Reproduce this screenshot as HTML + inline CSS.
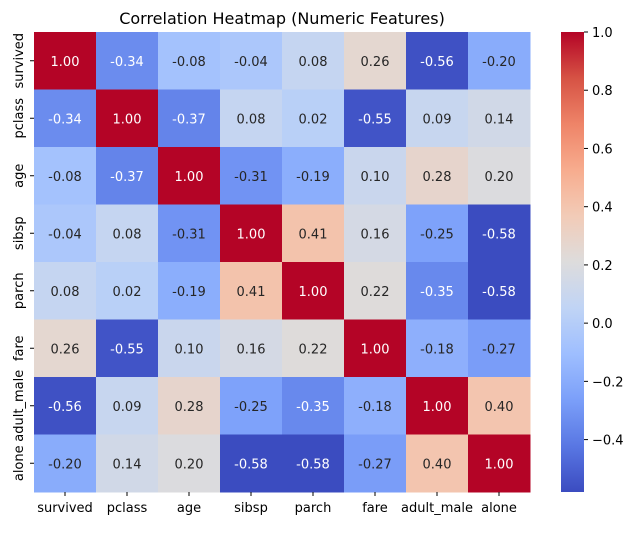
<!DOCTYPE html>
<html><head><meta charset="utf-8"><style>
body{margin:0;background:#fff}
svg text{font-family:"DejaVu Sans","Liberation Sans",sans-serif}
</style></head><body>
<svg id="c" width="637" height="528" xmlns="http://www.w3.org/2000/svg">
<text x="282" y="24" text-anchor="middle" font-size="16" fill="#000">Correlation Heatmap (Numeric Features)</text>
<g id="cells"></g><g id="labels"></g><g id="cbar"></g>
</svg>
<script>
const categories = ["survived","pclass","age","sibsp","parch","fare","adult_male","alone"];
const row0 = [1.00,-0.34,-0.08,-0.04,0.08,0.26,-0.56,-0.20];
const row1 = [-0.34,1.00,-0.37,0.08,0.02,-0.55,0.09,0.14];
const row2 = [-0.08,-0.37,1.00,-0.31,-0.19,0.10,0.28,0.20];
const row3 = [-0.04,0.08,-0.31,1.00,0.41,0.16,-0.25,-0.58];
const row4 = [0.08,0.02,-0.19,0.41,1.00,0.22,-0.35,-0.58];
const row5 = [0.26,-0.55,0.10,0.16,0.22,1.00,-0.18,-0.27];
const row6 = [-0.56,0.09,0.28,-0.25,-0.35,-0.18,1.00,0.40];
const row7 = [-0.20,0.14,0.20,-0.58,-0.58,-0.27,0.40,1.00];
const matrix = [row0,row1,row2,row3,row4,row5,row6,row7];
const cbarTicks = [-0.4,-0.2,0.0,0.2,0.4,0.6,0.8,1.0];

const NS="http://www.w3.org/2000/svg";
const X0=34,X1=530,Y0=32,Y1=492;
const all=matrix.flat();
const vmin=Math.min(...all), vmax=Math.max(...all);
const n=categories.length, cw=(X1-X0)/n, ch=(Y1-Y0)/n;
const xPos=i=>X0+i*cw, yPos=i=>Y0+i*ch;
const cbY=v=>Y0+(vmax-v)/(vmax-vmin)*(Y1-Y0);
const stops=["#3b4cc0","#5977e3","#7b9ff9","#9ebeff","#c0d4f5","#dddcdc","#f2cbb7","#f7ac8e","#ee8468","#d65244","#b40426"].map(h=>[1,3,5].map(k=>parseInt(h.substr(k,2),16)));
function cmap(v){let t=(v-vmin)/(vmax-vmin);t=Math.max(0,Math.min(1,t))*10;const i=Math.min(9,Math.floor(t)),f=t-i;return stops[i].map((c,k)=>Math.round(c+(stops[i+1][k]-c)*f));}
function textColor(v){const t=(v-vmin)/(vmax-vmin);return (t<0.17||t>0.82)?'#ffffff':'#262626';}
function mk(tag,a,p){const e=document.createElementNS(NS,tag);for(const k in a)e.setAttribute(k,a[k]);p.appendChild(e);return e;}
const cells=document.getElementById('cells'),labels=document.getElementById('labels'),cbar=document.getElementById('cbar');
matrix.forEach((row,r)=>row.forEach((v,c)=>{
  const col=cmap(v);
  const rect=mk('rect',{x:xPos(c),y:yPos(r),width:cw+0.5,height:ch+0.5,fill:`rgb(${col})`},cells);
  
  
  const t=mk('text',{x:xPos(c)+cw/2,y:yPos(r)+ch/2+5,'text-anchor':'middle','font-size':13,fill:textColor(v)},cells);
  t.textContent=v.toFixed(2);
  
  
}));
categories.forEach((name,i)=>{
  const cx=xPos(i)+cw/2;
  mk('line',{x1:cx,x2:cx,y1:Y1,y2:Y1+4,stroke:'#000'},labels);
  const t=mk('text',{x:cx,y:Y1+20,'text-anchor':'middle','font-size':13,fill:'#000'},labels);
  t.textContent=name;
  
  
  const cy=yPos(i)+ch/2;
  mk('line',{x1:X0-4,x2:X0,y1:cy,y2:cy,stroke:'#000'},labels);
  const u=mk('text',{x:0,y:0,'text-anchor':'middle','font-size':13,fill:'#000',transform:`translate(23,${cy}) rotate(-90)`},labels);
  u.textContent=name;
  
  
});
const defs=mk('defs',{},cbar);
const g=mk('linearGradient',{id:'cg',x1:0,y1:1,x2:0,y2:0},defs);
for(let k=0;k<=20;k++){const v=vmin+(vmax-vmin)*k/20;mk('stop',{offset:k/20,'stop-color':`rgb(${cmap(v)})`},g);}
const cb=mk('rect',{x:561,y:Y0,width:23,height:Y1-Y0,fill:'url(#cg)'},cbar);


cbarTicks.forEach(v=>{
  const y=cbY(v);
  mk('line',{x1:584,x2:588,y1:y,y2:y,stroke:'#000'},cbar);
  const t=mk('text',{x:592,y:y+5,'font-size':13,fill:'#000'},cbar);
  t.textContent=(v<0?'\u2212':'')+Math.abs(v).toFixed(1);
  
  
});
</script>
</body></html>
